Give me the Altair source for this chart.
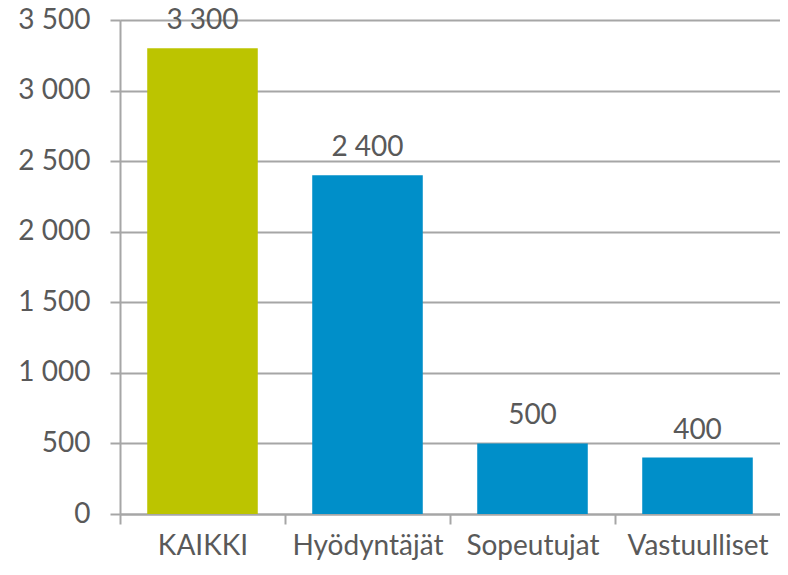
import altair as alt
import pandas as pd

categories = ["KAIKKI", "Hyödyntäjät", "Sopeutujat", "Vastuulliset"]
values = [3300, 2400, 500, 400]
bar_colors = ["#BCC400", "#008FC9", "#008FC9", "#008FC9"]
y_ticks = [0, 500, 1000, 1500, 2000, 2500, 3000, 3500]

df = pd.DataFrame({
    "cat": categories,
    "val": values,
    "label": [f"{v:,}".replace(",", " ") for v in values],
})

FONT = "Lato"
TXT = "#595959"
GRID = "#A6A6A6"

W, H = 660, 494
STEP = W / len(categories)

x_enc = alt.X(
    "cat:N",
    sort=categories,
    title=None,
    scale=alt.Scale(paddingInner=0.33, paddingOuter=0.165),
    axis=alt.Axis(
        labelAngle=0,
        labelFont=FONT,
        labelFontSize=28,
        labelColor=TXT,
        labelPadding=8,
        tickSize=10,
        tickColor=GRID,
        tickWidth=2,
        tickOffset=-STEP / 2,
        labelOffset=STEP / 2,
        domainColor=GRID,
        domainWidth=2,
        grid=False,
    ),
)

y_enc = alt.Y(
    "val:Q",
    title=None,
    scale=alt.Scale(domain=[0, 3500], nice=False),
    axis=alt.Axis(
        values=y_ticks,
        labelExpr="replace(format(datum.value, ','), ',', ' ')",
        labelFont=FONT,
        labelFontSize=28,
        labelColor=TXT,
        labelPadding=20,
        tickSize=10,
        tickColor=GRID,
        tickWidth=2,
        domainColor=GRID,
        domainWidth=2,
        grid=True,
        gridColor=GRID,
        gridWidth=2,
    ),
)

bars = alt.Chart(df).mark_bar().encode(
    x=x_enc,
    y=y_enc,
    color=alt.Color("cat:N", scale=alt.Scale(domain=categories, range=bar_colors), legend=None),
)

labels = alt.Chart(df).mark_text(
    font=FONT, fontSize=28, color=TXT, baseline="alphabetic", dy=-19
).encode(
    x=alt.X("cat:N", sort=categories),
    y="val:Q",
    text="label:N",
)

chart = (
    alt.layer(bars, labels)
    .properties(
        width=W,
        height=H,
        autosize=alt.AutoSizeParams(type="none"),
        padding={"left": 112, "top": 12, "right": 0, "bottom": 53},
    )
    .configure_view(stroke=None)
    .configure(background="white")
)

chart.save("out.html", embed_options={"renderer": "svg", "actions": False})
